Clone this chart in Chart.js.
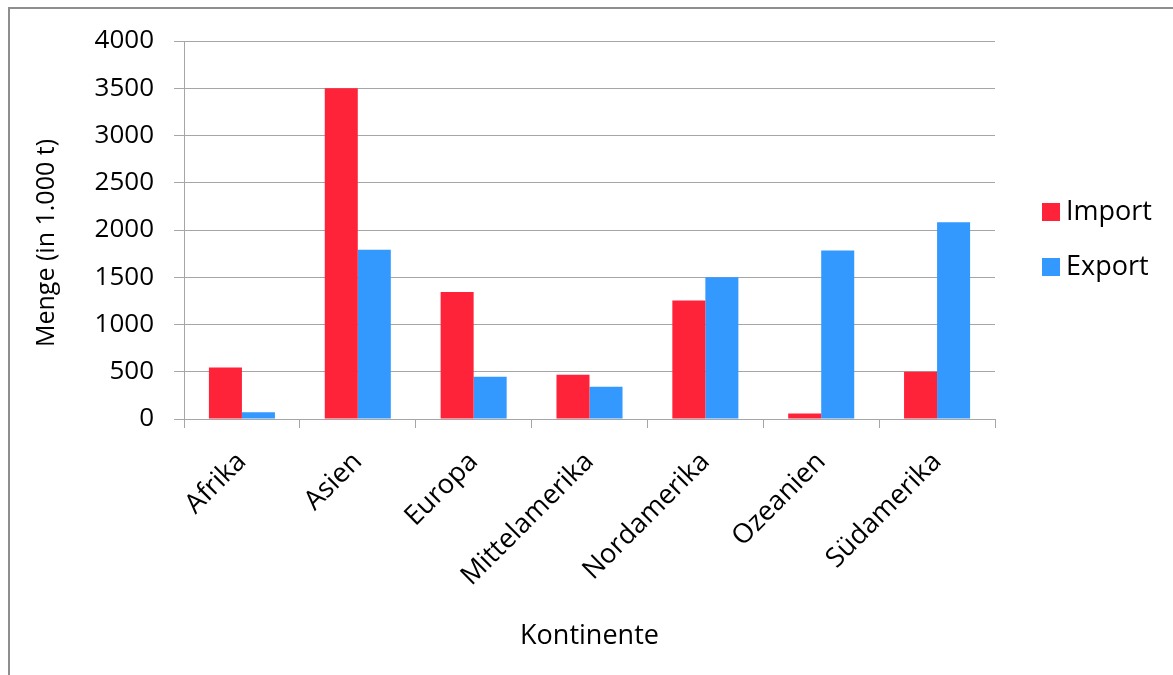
<!DOCTYPE html>
<html>
<head>
<meta charset="utf-8">
<script src="https://cdn.jsdelivr.net/npm/chart.js@4"></script>
<style>
  html, body { margin: 0; padding: 0; background: #fff; overflow: hidden; }
  .frame {
    position: absolute; left: 8px; top: 7px; width: 2000px; height: 2000px;
    border-left: 2px solid #8e8e8e; border-top: 2px solid #8e8e8e;
  }
  #chart { position: absolute; left: 0; top: 0; }
</style>
</head>
<body>
<div class="frame"></div>
<canvas id="chart" width="1173" height="675"></canvas>
<script>
const continents = ["Afrika", "Asien", "Europa", "Mittelamerika", "Nordamerika", "Ozeanien", "Südamerika"];
const importValues = [545, 3500, 1345, 468, 1254, 59, 500];
const exportValues = [71, 1790, 448, 341, 1500, 1782, 2083];
const yMin = 0, yMax = 4000, yStep = 500;

const FONT = "'Open Sans', Lato, sans-serif";
const gridColor = "#a6a6a6";

// legend drawn to the right of the plot, like the spreadsheet style
const sideLegend = {
    id: "sideLegend",
    afterDraw(chart) {
        const ctx = chart.ctx;
        const area = chart.chartArea;
        const midY = (area.top + area.bottom) / 2;
        ctx.save();
        ctx.font = "27px " + FONT;
        ctx.textBaseline = "middle";
        chart.data.datasets.forEach((ds, i) => {
            const y = midY - 18 + i * 55;
            ctx.fillStyle = ds.backgroundColor;
            ctx.fillRect(area.right + 47, y - 9, 18, 18);
            ctx.fillStyle = "#000";
            ctx.fillText(ds.label, area.right + 71, y);
        });
        ctx.restore();
    }
};

const ctx = document.getElementById("chart").getContext("2d");
const chart = new Chart(ctx, {
    type: "bar",
    data: {
        labels: continents,
        datasets: [
            { label: "Import", data: importValues, backgroundColor: "#ff233a" },
            { label: "Export", data: exportValues, backgroundColor: "#3399ff" }
        ]
    },
    options: {
        responsive: false,
        animation: false,
        layout: { padding: { left: 20, top: 41, right: 178, bottom: 10 } },
        datasets: { bar: { categoryPercentage: 0.57, barPercentage: 1.0 } },
        plugins: {
            legend: { display: false },
            tooltip: { enabled: false }
        },
        scales: {
            x: {
                afterFit: scale => { scale.height = 246; },
                grid: { drawOnChartArea: false, offset: true, tickLength: 9, color: gridColor },
                border: { color: gridColor },
                ticks: { color: "#000", font: { family: FONT, size: 27 }, minRotation: 45, maxRotation: 45, padding: 18 },
                title: { display: true, text: "Kontinente", color: "#000", font: { family: FONT, size: 27 }, padding: 12 }
            },
            y: {
                min: yMin,
                max: yMax,
                afterFit: scale => { scale.width = 164; },
                grid: { color: gridColor, tickLength: 10 },
                border: { color: gridColor },
                ticks: { stepSize: yStep, color: "#000", font: { family: FONT, size: 26 }, padding: 20, callback: v => String(v) },
                // trailing spaces nudge the rotated title slightly down the axis
                title: { display: true, text: "Menge (in 1.000 t)\u00a0\u00a0\u00a0\u00a0", color: "#000", font: { family: FONT, size: 25 }, padding: 12 }
            }
        }
    },
    plugins: [sideLegend]
});
</script>
</body>
</html>
